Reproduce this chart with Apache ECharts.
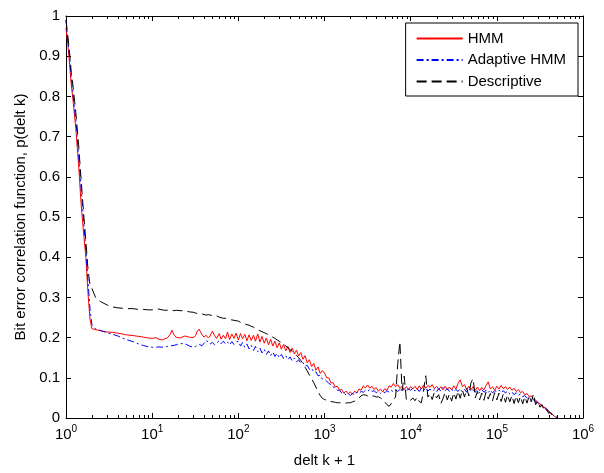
<!DOCTYPE html>
<html>
<head>
<meta charset="utf-8">
<title>Bit error correlation function</title>
<script src="https://cdn.jsdelivr.net/npm/echarts@6/dist/echarts.min.js"></script>
<style>
  html, body { margin: 0; padding: 0; background: #fff; }
  #chart { width: 604px; height: 473px; }
</style>
</head>
<body>
<div id="chart"></div>
<script>
// Lag values (delt k + 1) shared by the three curves
const lags = [
  1, 1.05, 1.1, 1.15, 1.2, 1.3, 1.4, 1.5, 1.6, 1.7, 1.8, 1.9, 2,
  2.2, 2.5, 3, 3.5, 4, 4.5, 5, 6, 7, 8, 9, 10, 11, 12, 13, 14, 15, 16, 17, 18, 19,
  20, 21, 22, 24, 25, 27, 28, 30, 32, 33, 35, 38, 40, 42, 45, 47, 50, 53, 56, 60, 63, 67, 71, 75, 79, 84, 89, 94,
  100, 106, 112, 119, 126, 133, 141, 150, 158, 168, 178, 188, 200, 211, 224, 237, 251, 266, 282, 299,
  316, 335, 355, 376, 398, 422, 447, 473, 501, 531, 562, 596, 631, 668, 708, 750, 794, 841, 891, 944,
  1000, 1059, 1122, 1189, 1259, 1334, 1413, 1496, 1585, 1679, 1778, 1884, 1995, 2113, 2239, 2371, 2512, 2661, 2818, 2985,
  3162, 3350, 3548, 3758, 3981, 4217, 4467, 4732, 5012, 5309, 5623, 5957, 6310, 6683, 7079, 7499, 7943, 8414, 8913, 9441,
  10000, 10593, 11220, 11885, 12589, 13335, 14125, 14962, 15849, 16788, 17783, 18836, 19953, 21135, 22387, 23714, 25119, 26607, 28184, 29854,
  31623, 33497, 35481, 37584, 39811, 42170, 44668, 47315, 50119, 53088, 56234, 59566, 63096, 66834, 70795, 74989, 79433, 84140, 89125, 94406,
  100000, 105925, 112202, 118850, 125893, 133352, 141254, 149624, 158489, 167880, 177828, 188365, 199526, 211349, 223872,
  237137, 251189, 266073, 281838, 298538, 316228, 334965, 354813, 375837, 398107, 421697, 446684, 473151, 501187
];

// HMM estimate
const hmm = [
  0.97, 0.93, 0.88, 0.83, 0.795, 0.72, 0.63, 0.53, 0.46, 0.40, 0.31, 0.245, 0.222,
  0.220, 0.217, 0.214, 0.213, 0.211, 0.209, 0.207, 0.205, 0.203, 0.201, 0.199, 0.198, 0.200, 0.196, 0.194, 0.197, 0.199, 0.207, 0.218, 0.206, 0.201,
  0.201, 0.199, 0.202, 0.204, 0.206, 0.201, 0.203, 0.200, 0.205, 0.214, 0.221, 0.207, 0.201, 0.206, 0.199, 0.204, 0.216, 0.205, 0.198, 0.210, 0.196, 0.206, 0.197, 0.214, 0.195, 0.209, 0.198, 0.211,
  0.194, 0.210, 0.197, 0.208, 0.192, 0.207, 0.193, 0.206, 0.191, 0.209, 0.189, 0.203, 0.186, 0.199, 0.182, 0.196, 0.179, 0.191, 0.175, 0.187,
  0.171, 0.183, 0.167, 0.178, 0.163, 0.174, 0.159, 0.169, 0.154, 0.163, 0.146, 0.155, 0.137, 0.145, 0.128, 0.136, 0.119, 0.127, 0.111, 0.118,
  0.112, 0.100, 0.100, 0.087, 0.088, 0.077, 0.079, 0.069, 0.071, 0.062, 0.067, 0.060, 0.065, 0.059, 0.067, 0.062, 0.072, 0.069, 0.080, 0.075,
  0.082, 0.074, 0.079, 0.071, 0.076, 0.067, 0.072, 0.065, 0.073, 0.069, 0.080, 0.077, 0.086, 0.078, 0.083, 0.074, 0.079, 0.071, 0.078, 0.071,
  0.078, 0.072, 0.079, 0.071, 0.080, 0.072, 0.082, 0.074, 0.081, 0.076, 0.083, 0.073, 0.079, 0.071, 0.078, 0.070, 0.079, 0.071, 0.077, 0.070,
  0.080, 0.072, 0.086, 0.095, 0.078, 0.083, 0.071, 0.079, 0.070, 0.078, 0.069, 0.077, 0.068, 0.076, 0.070, 0.081, 0.090, 0.072, 0.078, 0.069,
  0.079, 0.072, 0.081, 0.073, 0.078, 0.071, 0.077, 0.069, 0.074, 0.066, 0.071, 0.063, 0.066, 0.058, 0.061,
  0.053, 0.055, 0.046, 0.045, 0.037, 0.036, 0.028, 0.027, 0.019, 0.017, 0.010, 0.008, 0.003, 0.001
];

// Adaptive HMM estimate
const adaptiveHmm = [
  0.99, 0.94, 0.90, 0.85, 0.81, 0.74, 0.655, 0.57, 0.49, 0.42, 0.34, 0.27, 0.232,
  0.222, 0.218, 0.212, 0.208, 0.204, 0.199, 0.195, 0.190, 0.184, 0.180, 0.177, 0.176, 0.176, 0.177, 0.176, 0.177, 0.178, 0.179, 0.180, 0.181, 0.182,
  0.183, 0.185, 0.187, 0.185, 0.182, 0.179, 0.177, 0.176, 0.178, 0.181, 0.183, 0.180, 0.186, 0.193, 0.189, 0.184, 0.188, 0.182, 0.187, 0.192, 0.185, 0.191, 0.184, 0.189, 0.182, 0.190, 0.183, 0.189,
  0.191, 0.179, 0.188, 0.176, 0.184, 0.172, 0.181, 0.168, 0.178, 0.165, 0.174, 0.162, 0.171, 0.158, 0.167, 0.155, 0.164, 0.153, 0.161, 0.150,
  0.158, 0.148, 0.155, 0.145, 0.152, 0.142, 0.149, 0.139, 0.145, 0.136, 0.138, 0.129, 0.131, 0.121, 0.124, 0.114, 0.115, 0.105, 0.106, 0.097,
  0.096, 0.092, 0.086, 0.083, 0.077, 0.075, 0.069, 0.069, 0.062, 0.063, 0.057, 0.061, 0.056, 0.061, 0.058, 0.064, 0.061, 0.066, 0.064, 0.069,
  0.066, 0.071, 0.066, 0.068, 0.063, 0.066, 0.061, 0.066, 0.063, 0.068, 0.064, 0.069, 0.065, 0.070, 0.066, 0.071, 0.067, 0.072, 0.068, 0.072,
  0.069, 0.074, 0.067, 0.073, 0.066, 0.074, 0.068, 0.075, 0.067, 0.072, 0.066, 0.071, 0.065, 0.073, 0.067, 0.076, 0.068, 0.073, 0.066, 0.072,
  0.065, 0.071, 0.066, 0.073, 0.065, 0.072, 0.064, 0.074, 0.066, 0.071, 0.064, 0.070, 0.063, 0.071, 0.064, 0.069, 0.063, 0.070, 0.062, 0.068,
  0.066, 0.070, 0.063, 0.068, 0.062, 0.067, 0.060, 0.065, 0.058, 0.063, 0.056, 0.060, 0.053, 0.056, 0.049,
  0.052, 0.045, 0.046, 0.039, 0.040, 0.033, 0.032, 0.026, 0.024, 0.017, 0.014, 0.008, 0.004, 0.001
];

// Descriptive model
const descriptive = [
  0.99, 0.95, 0.91, 0.86, 0.83, 0.76, 0.68, 0.59, 0.51, 0.44, 0.37, 0.33, 0.322,
  0.300, 0.290, 0.281, 0.276, 0.274, 0.273, 0.272, 0.272, 0.270, 0.270, 0.269, 0.269, 0.270, 0.271, 0.269, 0.268, 0.268, 0.269, 0.268, 0.267, 0.268,
  0.268, 0.267, 0.269, 0.267, 0.265, 0.264, 0.263, 0.263, 0.261, 0.262, 0.259, 0.259, 0.258, 0.256, 0.257, 0.255, 0.255, 0.253, 0.254, 0.251, 0.250, 0.248, 0.248, 0.246, 0.246, 0.244, 0.243, 0.242,
  0.241, 0.238, 0.237, 0.234, 0.232, 0.231, 0.228, 0.226, 0.223, 0.220, 0.217, 0.215, 0.212, 0.210, 0.207, 0.204, 0.201, 0.198, 0.194, 0.191,
  0.187, 0.184, 0.179, 0.175, 0.170, 0.166, 0.161, 0.156, 0.150, 0.143, 0.135, 0.126, 0.117, 0.107, 0.098, 0.088, 0.077, 0.066, 0.056, 0.049,
  0.046, 0.044, 0.042, 0.041, 0.040, 0.039, 0.038, 0.038, 0.037, 0.038, 0.037, 0.038, 0.038, 0.040, 0.042, 0.045, 0.050, 0.055, 0.058, 0.057,
  0.055, 0.056, 0.054, 0.055, 0.052, 0.053, 0.050, 0.046, 0.040, 0.033, 0.029, 0.036, 0.046, 0.052, 0.135, 0.190, 0.068, 0.104, 0.045, 0.048,
  0.044, 0.050, 0.043, 0.052, 0.041, 0.038, 0.070, 0.105, 0.052, 0.061, 0.046, 0.064, 0.050, 0.058, 0.036, 0.048, 0.064, 0.045, 0.060, 0.042,
  0.063, 0.047, 0.067, 0.049, 0.070, 0.052, 0.074, 0.055, 0.088, 0.098, 0.050, 0.066, 0.045, 0.062, 0.044, 0.065, 0.047, 0.061, 0.043, 0.063,
  0.045, 0.062, 0.041, 0.060, 0.039, 0.058, 0.040, 0.056, 0.036, 0.055, 0.038, 0.054, 0.035, 0.053, 0.037,
  0.055, 0.040, 0.060, 0.033, 0.042, 0.027, 0.033, 0.020, 0.024, 0.012, 0.014, 0.006, 0.004, 0.001
];

const seriesNames = ['HMM', 'Adaptive HMM', 'Descriptive'];
const yTicks = [0, 0.1, 0.2, 0.3, 0.4, 0.5, 0.6, 0.7, 0.8, 0.9, 1];

const FONT = 'Liberation Sans, Arial, Helvetica, sans-serif';

// logarithmic minor ticks: 2..9 x 10^k for each decade of the axis
const minorTickValues = [];
for (let k = 0; k < 6; k++) {
  for (let m = 2; m <= 9; m++) minorTickValues.push([m * Math.pow(10, k), 0]);
}

const pairs = ys => lags.map((x, i) => [x, ys[i]]);

const chart = echarts.init(document.getElementById('chart'), null, { renderer: 'canvas' });

const logAxisBase = {
  type: 'log',
  logBase: 10,
  min: 1,
  max: 1e6,
  splitNumber: 6,
  splitLine: { show: false },
  axisLine: { show: true, onZero: false, lineStyle: { color: '#000', width: 1 } },
  axisTick: { show: true, inside: true, length: 5, lineStyle: { color: '#000' } },
  minorTick: { show: false }
};

const valueAxisBase = {
  type: 'value',
  min: 0,
  max: 1,
  interval: 0.1,
  splitLine: { show: false },
  axisLine: { show: true, onZero: false, lineStyle: { color: '#000', width: 1 } },
  axisTick: { show: true, inside: true, length: 5, lineStyle: { color: '#000' } }
};

chart.setOption({
  animation: false,
  backgroundColor: '#fff',
  textStyle: { fontFamily: FONT },
  grid: { left: 66, top: 16, width: 517, height: 406, containLabel: false },
  legend: {
    data: seriesNames,
    orient: 'vertical',
    right: 26,
    top: 23,
    padding: [8, 12, 7, 10],
    itemGap: 6.5,
    itemWidth: 46,
    itemHeight: 14,
    itemStyle: { opacity: 0 },
    backgroundColor: '#fff',
    borderColor: '#000',
    borderWidth: 1,
    borderRadius: 0,
    textStyle: { fontFamily: FONT, fontSize: 15, color: '#000' },
    selectedMode: false
  },
  xAxis: [
    Object.assign({}, logAxisBase, {
      position: 'bottom',
      name: 'delt k + 1',
      nameLocation: 'middle',
      nameGap: 35,
      nameTextStyle: { fontFamily: FONT, fontSize: 15, color: '#000' },
      axisLabel: {
        show: true,
        margin: 6,
        color: '#000',
        formatter: v => '{b|10}{e|' + Math.round(Math.log10(v)) + '}',
        rich: {
          b: { fontFamily: FONT, fontSize: 15, color: '#000' },
          e: { fontFamily: FONT, fontSize: 10, color: '#000', padding: [0, 0, 12, 0] }
        }
      }
    }),
    Object.assign({}, logAxisBase, {
      position: 'top',
      axisLabel: { show: false }
    })
  ],
  yAxis: [
    Object.assign({}, valueAxisBase, {
      position: 'left',
      name: 'Bit error correlation function, p(delt k)',
      nameLocation: 'middle',
      nameGap: 37,
      nameRotate: 90,
      nameTextStyle: { fontFamily: FONT, fontSize: 15, color: '#000' },
      axisLabel: {
        show: true,
        margin: 6,
        color: '#000',
        fontFamily: FONT,
        fontSize: 15,
        customValues: yTicks,
        formatter: v => String(Math.round(v * 10) / 10)
      }
    }),
    Object.assign({}, valueAxisBase, {
      position: 'right',
      axisLabel: { show: false }
    })
  ],
  series: [
    {
      name: 'HMM',
      type: 'line',
      data: pairs(hmm),
      showSymbol: false,
      symbol: 'none',
      lineStyle: { color: '#ff0000', width: 1, type: 'solid' },
      itemStyle: { color: '#ff0000' },
      z: 3
    },
    {
      name: 'Adaptive HMM',
      type: 'line',
      data: pairs(adaptiveHmm),
      showSymbol: false,
      symbol: 'none',
      lineStyle: { color: '#0000ff', width: 1, type: [7, 3, 2, 3] },
      itemStyle: { color: '#0000ff' },
      z: 4
    },
    {
      name: 'Descriptive',
      type: 'line',
      data: pairs(descriptive),
      showSymbol: false,
      symbol: 'none',
      lineStyle: { color: '#000000', width: 1, type: [10, 5] },
      itemStyle: { color: '#000000' },
      z: 5
    },
    {
      // minor ticks on the bottom and top edges of the log axis
      name: 'minorTicks',
      type: 'custom',
      silent: true,
      clip: false,
      data: minorTickValues,
      renderItem: (params, api) => {
        const x = api.value(0);
        const b = api.coord([x, 0]);
        const t = api.coord([x, 1]);
        const px = Math.round(b[0]) + 0.5;
        return {
          type: 'group',
          children: [
            { type: 'line', shape: { x1: px, y1: b[1], x2: px, y2: b[1] - 3 }, style: { stroke: '#000', lineWidth: 1 } },
            { type: 'line', shape: { x1: px, y1: t[1], x2: px, y2: t[1] + 3 }, style: { stroke: '#000', lineWidth: 1 } }
          ]
        };
      },
      z: 6
    }
  ]
});
</script>
</body>
</html>
